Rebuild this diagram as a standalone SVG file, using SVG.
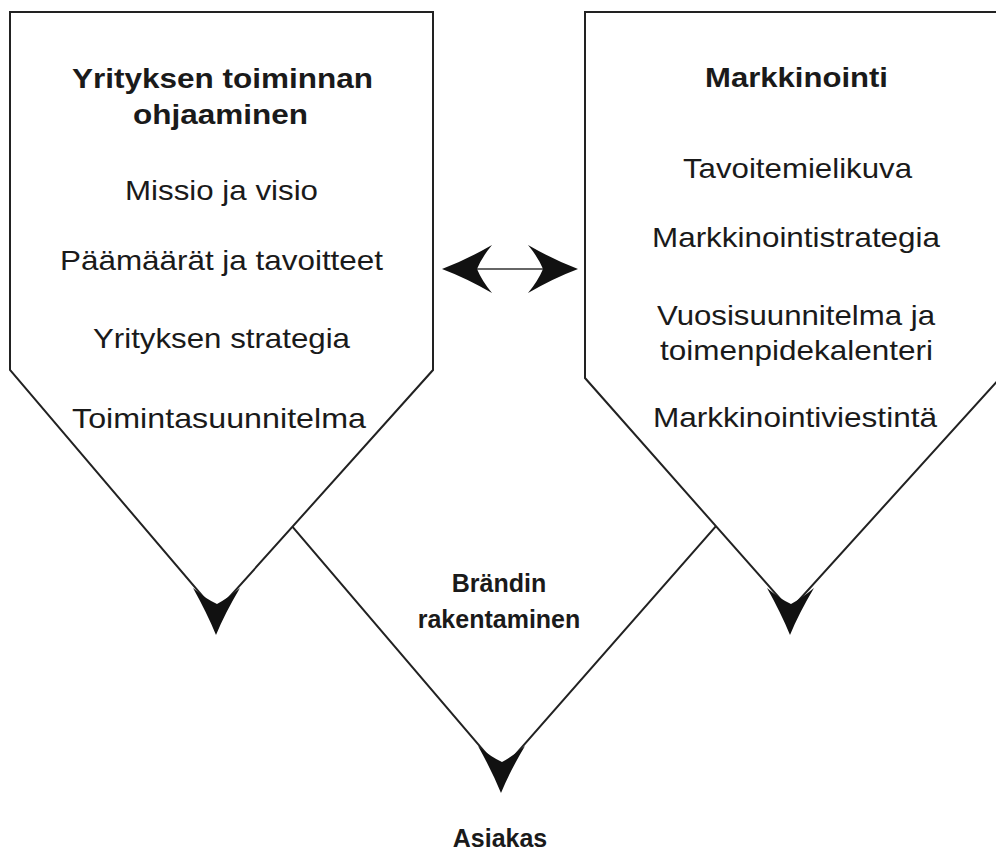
<svg xmlns="http://www.w3.org/2000/svg" width="996" height="852" viewBox="0 0 996 852">
  <style>
    .shape { fill: #ffffff; stroke: #222222; stroke-width: 2; stroke-linejoin: miter; }
    .vee { fill: none; stroke: #222222; stroke-width: 2; stroke-linejoin: miter; }
    .title { font-family: "Liberation Sans", Arial, sans-serif; font-weight: bold; font-size: 28px; fill: #1a1a1a; text-anchor: middle; }
    .sub { font-family: "Liberation Sans", Arial, sans-serif; font-weight: bold; font-size: 25px; fill: #1a1a1a; text-anchor: middle; }
    .item { font-family: "Liberation Sans", Arial, sans-serif; font-size: 28px; fill: #1a1a1a; text-anchor: middle; }
    .head { fill: #111111; }
    .shaft { stroke: #666666; stroke-width: 2; fill: none; }
  </style>
  <defs>
    <!-- notched downward arrowhead, tip at origin -->
    <path id="downHead" class="head" d="M0,0 Q-9,-22 -23,-47 Q-10,-36 1,-31 Q12,-37 24,-47 Q9,-22 0,0 Z"/>
    <!-- notched arrowhead pointing left, tip at origin -->
    <path id="leftHead" class="head" d="M0,0 Q24,-9 50,-24 Q40,-12 35,0 Q40,12 50,24 Q24,9 0,0 Z"/>
  </defs>

  <rect width="996" height="852" fill="#ffffff"/>

  <!-- middle node: its upper part lies under the two top shapes, so only the V is drawn -->
  <g id="node-brandi">
    <polyline class="vee" points="250,477 501,771 760,476"/>
    <use href="#downHead" x="501" y="793"/>
    <text class="sub" x="499" y="592">Brändin</text>
    <text class="sub" x="499" y="628">rakentaminen</text>
  </g>

  <g id="node-yritys">
    <polygon class="shape" points="10,12 433,12 433,370 216,612 10,370"/>
    <use href="#downHead" x="216" y="635"/>
    <text class="title" x="222.5" y="88" textLength="301" lengthAdjust="spacingAndGlyphs">Yrityksen toiminnan</text>
    <text class="title" x="220.5" y="124" textLength="175" lengthAdjust="spacingAndGlyphs">ohjaaminen</text>
    <text class="item" x="221.5" y="200" textLength="193" lengthAdjust="spacingAndGlyphs">Missio ja visio</text>
    <text class="item" x="221.5" y="270" textLength="323" lengthAdjust="spacingAndGlyphs">Päämäärät ja tavoitteet</text>
    <text class="item" x="221.5" y="348" textLength="257" lengthAdjust="spacingAndGlyphs">Yrityksen strategia</text>
    <text class="item" x="219" y="428" textLength="294" lengthAdjust="spacingAndGlyphs">Toimintasuunnitelma</text>
  </g>

  <g id="node-markkinointi">
    <polygon class="shape" points="585,12 1000,12 1000,378 790,610 585,378"/>
    <use href="#downHead" x="790" y="635"/>
    <text class="title" x="796.5" y="87" textLength="183" lengthAdjust="spacingAndGlyphs">Markkinointi</text>
    <text class="item" x="797.5" y="178" textLength="229" lengthAdjust="spacingAndGlyphs">Tavoitemielikuva</text>
    <text class="item" x="796" y="247" textLength="288" lengthAdjust="spacingAndGlyphs">Markkinointistrategia</text>
    <text class="item" x="796" y="325" textLength="278" lengthAdjust="spacingAndGlyphs">Vuosisuunnitelma ja</text>
    <text class="item" x="796.5" y="360" textLength="273" lengthAdjust="spacingAndGlyphs">toimenpidekalenteri</text>
    <text class="item" x="795" y="427" textLength="284" lengthAdjust="spacingAndGlyphs">Markkinointiviestintä</text>
  </g>

  <g id="node-asiakas">
    <text class="sub" x="500" y="847">Asiakas</text>
  </g>

  <g id="connectors">
    <line class="shaft" x1="474" y1="269" x2="546" y2="269"/>
    <use href="#leftHead" x="442" y="269"/>
    <use href="#leftHead" transform="translate(578,269) scale(-1,1)"/>
  </g>
</svg>
